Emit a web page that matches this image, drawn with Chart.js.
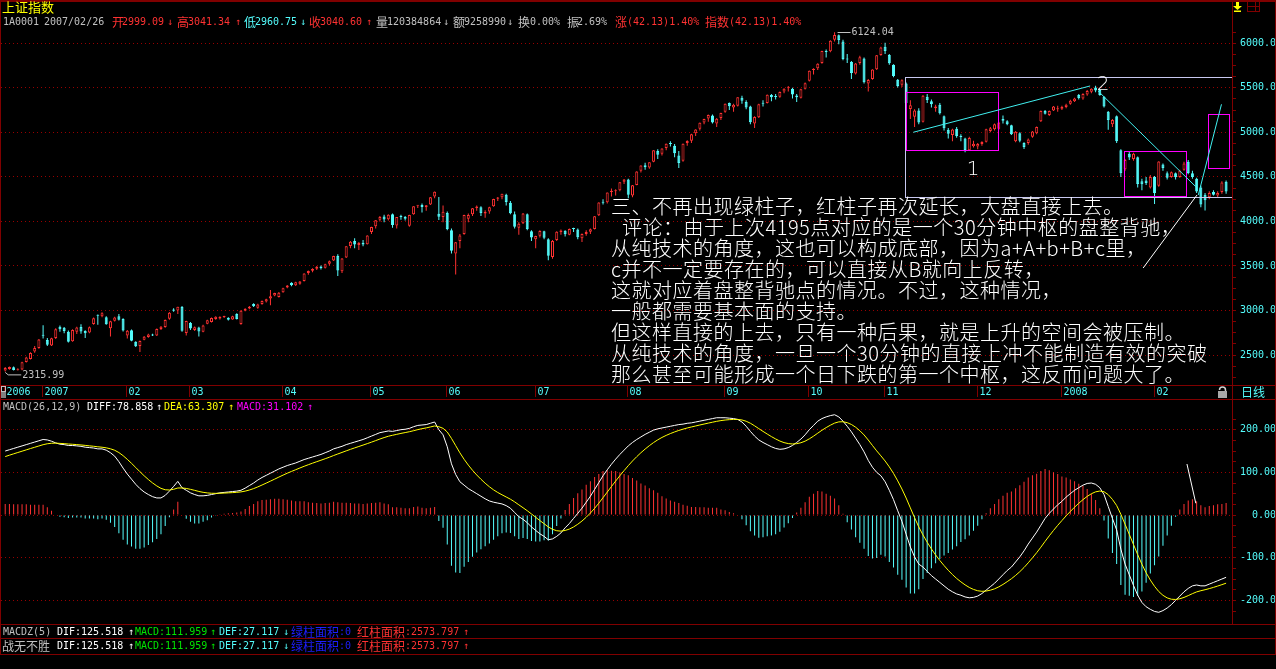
<!DOCTYPE html>
<html lang="zh-CN">
<head>
<meta charset="utf-8">
<title>上证指数 日线</title>
<script src="https://cdn.jsdelivr.net/npm/chart.js@4.4.1/dist/chart.umd.min.js"></script>
<style>
  html, body { margin:0; padding:0; background:#000; overflow:hidden; }
  #screen { position:relative; width:1276px; height:669px; background:#000; overflow:hidden; }
  #screen canvas { position:absolute; left:0; }
  #layer { position:absolute; left:0; top:0; width:1276px; height:669px; }
  .ln { position:absolute; background:#800000; }
  .tx { position:absolute; white-space:pre; font:10px/12px 'DejaVu Sans Mono', monospace; }
  .cj { position:absolute; white-space:pre; font:12px/12px 'Noto Sans CJK SC', sans-serif; }
  .note { position:absolute; white-space:pre; color:#fff; font:300 20px/21px 'Noto Sans CJK SC', sans-serif; letter-spacing:0.5px; }
</style>
</head>
<body>
<div id="screen">
  <canvas id="kline" width="1276" height="400" style="top:0"></canvas>
  <canvas id="macd" width="1276" height="226" style="top:399px"></canvas>
  <div id="layer"></div>
</div>
<script>
// ---- daily bars, 2006-12-19 .. 2008-03-04 ----
const opens = [
  2325,2342,2362,2328,2336,2422,2456,2540,2578,2728,
  2668,2606,2690,2818,2805,2762,2655,2760,2815,2770,
  2752,2848,2948,2935,2925,2800,2885,2935,2905,2718,
  2778,2648,2600,2672,2702,2728,2720,2792,2815,2906,
  3012,2999.09,3040,2747,2858,2780,2810,2762,2852,2870,
  2905,2910,2926,2918,2900,2960,2848,2998,3022,3072,
  3030,3072,3100,3135,3168,3150,3205,3258,3310,3282,
  3300,3330,3420,3445,3468,3495,3480,3525,3560,3612,
  3440,3595,3725,3780,3735,3760,3745,3880,3945,4020,
  4055,4025,4080,3955,4055,4050,3950,4080,4175,4185,
  4160,4190,4280,4087,4050,4095,3900,3640,3780,3860,
  4030,4080,4150,4160,4090,4110,4170,4255,4270,4300,
  4210,4080,3930,3980,4080,3890,3800,3840,3890,3800,
  3600,3790,3880,3895,3850,3920,3910,3810,3860,3885,
  3915,4070,4220,4215,4330,4340,4350,4445,4470,4290,
  4410,4570,4630,4605,4670,4790,4760,4825,4875,4850,
  4740,4680,4880,4905,4990,5040,5110,5155,5190,5100,
  5160,5230,5330,5280,5300,5390,5340,5290,5100,5170,
  5330,5330,5420,5400,5400,5460,5495,5490,5415,5390,
  5490,5580,5700,5720,5780,5910,5910,6040,6090,6020,
  5820,5790,5660,5780,5830,5550,5600,5710,5870,5960,
  5870,5760,5590,5535,5550,5262,5175,5245,5120,5400,
  5350,5270,5310,5180,5030,4970,5040,4950,4930,4800,
  4845,4840,4870,4895,5015,5035,5040,5150,5125,5080,
  4900,4990,4880,4880,4950,4990,5125,5240,5195,5245,
  5260,5265,5285,5320,5350,5420,5380,5425,5455,5505,
  5475,5400,5230,5090,5180,4800,4585,4760,4700,4720,
  4450,4460,4380,4500,4400,4640,4540,4500,4540,4500,
  4580,4670,4540,4480,4380,4300,4270,4330,4290,4330,
  4445
];
const highs = [
  2365,2372,2370,2350,2425,2480,2530,2600,2680,2835,
  2690,2695,2800,2830,2815,2775,2790,2818,2845,2778,
  2820,2920,2955,2980,2935,2885,2930,2960,2912,2780,
  2785,2655,2662,2712,2738,2740,2798,2825,2900,2982,
  3025,3041.34,3049,2885,2870,2820,2818,2840,2895,2922,
  2935,2935,2940,2925,2942,2968,3002,3025,3050,3080,
  3075,3112,3132,3230,3200,3208,3255,3285,3318,3322,
  3330,3418,3450,3475,3500,3505,3525,3560,3615,3630,
  3590,3722,3780,3810,3770,3790,3845,3940,4015,4060,
  4075,4080,4090,4050,4075,4060,4075,4170,4182,4200,
  4185,4275,4335,4275,4180,4110,3920,3770,3860,4075,
  4090,4150,4180,4170,4125,4165,4255,4275,4312,4310,
  4230,4110,3990,4095,4090,3900,3840,3900,3895,3810,
  3790,3890,3910,3900,3920,3930,3920,3865,3900,3920,
  4060,4215,4250,4325,4370,4360,4442,4475,4480,4410,
  4562,4630,4660,4665,4800,4810,4822,4875,4900,4870,
  4790,4875,4910,4985,5035,5110,5152,5200,5200,5160,
  5220,5325,5335,5320,5395,5410,5360,5300,5180,5320,
  5360,5425,5430,5430,5460,5495,5520,5500,5430,5490,
  5560,5695,5720,5775,5915,5930,6035,6124.04,6100,6040,
  5880,5800,5780,5860,5840,5600,5710,5870,5960,6005,
  5880,5765,5600,5595,5560,5360,5260,5270,5420,5430,
  5370,5310,5330,5190,5050,5040,5060,4980,4940,4950,
  4905,4880,4900,5040,5060,5100,5120,5190,5135,5085,
  5015,5000,4890,4930,5015,5065,5245,5250,5245,5295,
  5300,5300,5320,5365,5390,5430,5440,5475,5495,5522,
  5485,5405,5240,5150,5190,4810,4700,4790,4770,4730,
  4480,4500,4520,4510,4675,4650,4560,4560,4550,4580,
  4670,4690,4570,4490,4400,4320,4340,4350,4340,4450,
  4460
];
const lows = [
  2315.99,2335,2325,2326,2330,2415,2450,2525,2570,2684,
  2600,2600,2680,2762,2745,2640,2648,2735,2740,2690,
  2745,2840,2840,2925,2840,2707,2875,2888,2765,2685,
  2655,2590,2535,2665,2695,2712,2712,2780,2805,2895,
  2985,2960.75,2761,2720,2780,2770,2707,2755,2845,2865,
  2895,2900,2915,2888,2895,2900,2840,2990,3015,3040,
  3020,3065,3090,3060,3160,3145,3198,3250,3272,3275,
  3290,3325,3400,3430,3455,3460,3470,3505,3555,3388,
  3420,3590,3700,3700,3680,3720,3740,3860,3920,4000,
  3990,4010,3930,3920,4020,4010,3940,4075,4150,4100,
  4120,4185,4260,4015,3990,3900,3640,3404,3700,3850,
  3990,4060,4120,4060,4040,4085,4165,4230,4250,4180,
  4080,3920,3850,3970,3900,3780,3700,3820,3800,3563,
  3580,3780,3850,3830,3845,3880,3800,3770,3840,3860,
  3910,4060,4190,4200,4280,4290,4340,4420,4260,4270,
  4405,4550,4580,4590,4665,4700,4740,4800,4840,4720,
  4600,4670,4850,4880,4960,5020,5090,5120,5100,5060,
  5140,5220,5250,5230,5290,5320,5260,5090,5050,5160,
  5290,5325,5350,5370,5390,5440,5460,5380,5340,5380,
  5480,5570,5650,5700,5770,5840,5900,6020,5990,5810,
  5780,5600,5650,5760,5550,5460,5590,5700,5860,5880,
  5760,5620,5505,5510,5310,5150,5060,5090,5110,5330,
  5280,5230,5200,5020,4930,4900,4940,4900,4778,4790,
  4830,4810,4850,4885,5000,5020,5030,5100,5080,4970,
  4890,4890,4812,4860,4940,4980,5115,5200,5185,5240,
  5230,5250,5270,5310,5340,5370,5365,5410,5440,5450,
  5410,5280,5030,5060,4880,4500,4570,4690,4680,4380,
  4350,4410,4370,4195.75,4390,4570,4470,4490,4470,4490,
  4570,4530,4480,4320,4160,4123,4250,4290,4270,4310,
  4310
];
const closes = [
  2355,2366,2331,2332,2420,2473,2522,2580,2675,2715,
  2614,2688,2788,2790,2770,2648,2780,2810,2765,2745,
  2812,2912,2940,2970,2845,2878,2922,2895,2775,2772,
  2660,2598,2657,2705,2730,2720,2792,2818,2893,2975,
  2998,3040.60,2771.79,2881,2797,2812,2765,2832,2889,2916,
  2930,2928,2932,2895,2935,2905,2998,3020,3043,3048,
  3068,3106,3125,3160,3195,3200,3250,3280,3282,3318,
  3325,3416,3444,3466,3492,3478,3518,3554,3612,3449,
  3584,3720,3773,3741,3759,3741,3841,3937,4013,4049,
  4021,4074,3959,4049,4050,4030,4072,4169,4181,4162,
  4181,4272,4334,4053,4109,3914,3670,3767,3842,4072,
  4073,4149,4167,4095,4105,4159,4252,4269,4311,4218,
  4091,3941,3973,4089,3914,3820,3836,3893,3816,3615,
  3781,3883,3898,3856,3915,3914,3821,3858,3882,3912,
  4058,4213,4210,4324,4345,4345,4440,4471,4300,4407,
  4560,4628,4607,4663,4799,4749,4820,4872,4869,4765,
  4656,4873,4903,4980,5032,5107,5150,5194,5111,5153,
  5218,5321,5294,5310,5393,5355,5278,5113,5172,5317,
  5322,5421,5393,5397,5454,5490,5497,5425,5395,5485,
  5552,5692,5715,5771,5913,5903,6030,6092,6036,5825,
  5818,5667,5773,5843,5562,5589,5707,5867,5954,5914,
  5777,5634,5520,5585,5330,5305,5245,5110,5412,5362,
  5316,5290,5214,5045,4984,5032,4958,4947,4803,4936,
  4871,4868,4893,5035,5045,5090,5110,5130,5090,4980,
  5008,4905,4835,4920,5010,5060,5240,5210,5240,5290,
  5270,5285,5310,5355,5380,5386,5430,5465,5490,5470,
  5420,5290,5140,5140,4900,4540,4690,4717,4761,4419,
  4418,4430,4500,4320,4672,4599,4490,4552,4497,4570,
  4650,4545,4500,4335,4190,4238,4320,4300,4320,4436,
  4335
];

// ---- MACD(26,12,9) ----
const dif = [
  150,153,156,159,162,165,168,171,174,177,
  176,173,169,166,165,163,163,162,161,159,158,157,155,
  155,152,146,138,125,110,96,84,72,62,54,48,43,40,40,46,56,67,78.858,
  64,58,52,48,45,45,46,48,50,52,53,54,55,56,58,63,69,75,82,
  88,93,98,103,108,112,116,119,122,126,130,133,136,139,142,146,150,155,158,161,165,168,171,174,177,181,185,189,193,
  195,197,196,198,200,201,203,207,210,211,212,215,218,200,188,
  160,120,95,78,70,62,56,50,44,38,33,30,28,26,22,16,6,-4,-10,-18,-28,-36,-44,-50,-58,-56,-50,-42,-30,-20,
  -8,4,16,30,44,60,76,92,106,119,131,142,152,162,170,177,183,189,194,199,202,204,206,208,210,212,213,215,216,218,220,222,224,226,228,228,
  228,227,226,224,218,208,196,185,176,170,165,160,156,154,155,158,163,170,178,188,200,210,220,226,230,233,235,
  230,220,208,195,180,165,148,128,112,100,92,78,58,36,10,-15,-45,-75,-98,-115,-122,-132,-142,-150,-158,-166,-174,-180,-185,-188,-192,-194,-193,-190,-184,
  -176,-168,-160,-150,-140,-130,-122,-110,-98,-84,-68,-54,-40,-24,-8,4,14,24,32,42,50,58,64,70,74,75,72,64,
  48,20,-8,-35,-80,-115,-140,-165,-188,-205,-215,-221,-226,-228,
  -224,-218,-210,-200,-190,-180,-172,-166,-164,-166,-166,-162,-158,-154,-150,-146
];
const dea = [
  137,140.2,143.4,146.5,149.6,152.7,155.8,158.8,161.8,164.8,
  167,168.2,168.4,167.9,167.3,166.4,165.8,165,164.2,163.2,162.1,161.1,159.9,
  158.9,157.5,155.2,151.8,146.4,139.1,130.5,121.2,111.4,101.5,92,83.2,75.2,68.2,62.5,59.2,58.6,60.3,63.307,
  63.4,62.3,60.2,57.8,55.2,53.2,51.8,51,50.8,51,51.4,51.9,52.5,53.2,54.2,56,58.6,61.9,65.9,
  70.3,74.8,79.4,84.1,88.9,93.5,98,102.2,106.2,110.2,114.2,117.9,121.5,125,128.4,131.9,135.5,139.4,143.1,146.7,150.4,153.9,157.3,160.6,163.9,167.3,170.8,174.4,178.1,
  181.5,184.6,186.9,189.1,191.3,193.2,195.2,197.6,200.1,202.3,204.2,206.4,208.7,207,203.2,
  194.6,179.7,162.7,145.8,130.6,117,104.8,93.8,83.8,74.6,66.3,59,52.8,47.4,42.3,37.1,30.9,23.9,17.1,10.1,2.5,-5.2,-13,-20.4,-27.9,-33.5,-36.8,-37.8,-36.2,-33,
  -28,-21.6,-14.1,-5.3,4.6,15.7,27.8,40.6,53.7,66.8,79.6,92.1,104.1,115.7,126.6,136.7,146,154.6,162.5,169.8,176.2,181.8,186.6,190.9,194.7,198.2,201.2,204,206.4,208.7,211,213.2,215.4,217.5,219.6,221.3,
  222.6,223.5,224,224,222.8,219.8,215.1,209.1,202.5,196,189.8,183.8,178.3,173.4,169.7,167.4,166.5,167.2,169.4,173.1,178.5,184.8,191.8,198.6,204.9,210.5,215.4,
  218.3,218.6,216.5,212.2,205.8,197.6,187.7,175.8,163,150.4,138.7,126.6,112.9,97.5,80,61,39.8,16.8,-6.2,-28,-46.8,-63.8,-79.5,-93.6,-106.5,-118.4,-129.5,-139.6,-148.7,-156.6,-163.7,-169.8,-174.4,-177.5,-178.8,
  -178.2,-176.2,-173,-168.4,-162.7,-156.2,-149.4,-141.5,-132.8,-123,-112,-100.4,-88.3,-75.4,-61.9,-48.7,-36.2,-24.2,-13,-2,8.4,18.3,27.5,36,43.6,49.9,54.3,56.2,
  54.6,47.7,36.6,22.3,1.8,-21.6,-45.3,-69.2,-93,-115.4,-135.3,-152.4,-167.1,-179.3,
  -188.2,-194.2,-197.4,-197.9,-196.3,-193.1,-188.9,-184.3,-180.2,-177.4,-175.1,-172.5,-169.6,-166.5,-163.2,-159.8
];
const macdBars = [
  26,26,25,25,25,25,24,24,24,24,
  18,10,1,-4,-5,-7,-6,-6,-6,-8,-8,-8,-10,
  -8,-11,-18,-28,-43,-58,-69,-74,-79,-79,-76,-70,-64,-56,-45,-26,-5,13,31.102,
  1,-9,-16,-20,-20,-16,-12,-6,-2,2,3,4,5,6,8,14,21,26,32,
  35,36,37,38,38,37,36,34,32,32,32,30,29,28,27,28,29,31,30,29,29,28,27,27,26,27,28,29,30,
  27,25,18,18,17,16,16,19,20,17,16,17,19,-14,-30,
  -69,-119,-135,-136,-121,-110,-98,-88,-80,-73,-67,-58,-50,-43,-41,-42,-50,-56,-54,-56,-61,-62,-62,-59,-60,-45,-26,-8,12,26,
  40,51,60,71,79,89,96,103,105,104,103,100,96,93,87,81,74,69,63,58,52,44,39,34,31,28,24,22,19,19,18,18,17,17,17,13,
  11,7,4,0,-10,-24,-38,-48,-53,-52,-50,-48,-45,-39,-29,-19,-7,6,17,30,43,50,56,55,50,45,39,
  23,3,-17,-34,-52,-65,-79,-96,-102,-101,-93,-97,-110,-123,-140,-152,-170,-184,-184,-174,-150,-136,-125,-113,-103,-95,-89,-81,-73,-63,-57,-48,-37,-25,-10,
  4,16,26,37,45,52,55,63,70,78,88,93,97,103,108,105,100,96,90,88,83,79,73,68,61,50,35,16,
  -13,-55,-89,-115,-164,-187,-189,-192,-190,-179,-159,-137,-118,-97,
  -72,-48,-25,-4,13,26,34,37,32,23,18,21,23,25,26,28
];

// ---- axis labels ----
const monthLabels = ['2006','2007','02','03','04','05','06','07','08','09','10','11','12','2008','02'];
const monthStarts = [0, 9, 29, 44, 66, 87, 105, 126, 148, 171, 191, 209, 231, 251, 273];
const priceTicks = [2500, 3000, 3500, 4000, 4500, 5000, 5500, 6000];
const macdTicks = [-200, -100, 0, 100, 200];
const macdTickLabels = ['-200.0', '-100.0', '0.00', '100.00', '200.00'];

// ---- hand-drawn study marks (bar index / price) ----
const rangeFrame = [213.8, 291.4, 5622, 4278];
const pivotBoxes = [[213.9, 235.7, 5450, 4799], [265.7, 280.5, 4787, 4282], [285.7, 290.6, 5203, 4597]];
const trendLines = [[215.7, 5001, 257.7, 5521], [259.6, 5464, 282.8, 4390], [283.4, 4297, 288.9, 5315]];
const breakLine = [270.3, 3477, 283.1, 4297];
const pointLabels = [['1', 229.9, 4577], ['2', 260.8, 5532]];
const macdStroke = [280.7, 119.5, 282.8, 27.6];

const UP = '#ff3232', DOWN = '#54fcfc', FRAME = '#800000', GRID = '#980000', AXIS = '#54fcfc';
const MONO = "'DejaVu Sans Mono', monospace";
const idx = closes.map((_, i) => i);
const isUp = i => closes[i] >= opens[i];
const X_MIN = -1, X_MAX = 291.4;

function minorTicks(lo, hi, step) {
  const out = [];
  for (let v = lo; v <= hi + 1e-9; v += step) out.push(v);
  return out;
}

function rightAxis(min, max, marks, majors, label) {
  return {
    position: 'right', min, max,
    afterFit: s => { s.width = 44; },
    afterBuildTicks: s => { s.ticks = marks.map(v => ({ value: v })); },
    ticks: {
      autoSkip: false, color: AXIS, padding: 0, crossAlign: 'far',
      font: { family: MONO, size: 10 },
      callback: v => majors.includes(v) ? label(v) : ''
    },
    grid: {
      color: c => majors.includes(c.tick && c.tick.value) ? GRID : 'rgba(0,0,0,0)',
      tickColor: FRAME, tickLength: 4, lineWidth: 1
    },
    border: { display: true, color: FRAME, width: 1, dash: [1, 3] }
  };
}

const klineDecor = {
  id: 'klineDecor',
  afterDatasetsDraw(chart) {
    const { ctx, scales: { x, y } } = chart;
    const px = v => x.getPixelForValue(v), py = v => y.getPixelForValue(v);
    const sx = v => Math.round(px(v)) + 0.5, sy = v => Math.round(py(v)) + 0.5;
    ctx.save();
    ctx.lineWidth = 1;
    ctx.strokeStyle = '#c8c8f0';
    ctx.strokeRect(sx(rangeFrame[0]), sy(rangeFrame[2]), sx(rangeFrame[1]) - sx(rangeFrame[0]), sy(rangeFrame[3]) - sy(rangeFrame[2]));
    ctx.strokeStyle = '#ff00ff';
    pivotBoxes.forEach(b => ctx.strokeRect(sx(b[0]), sy(b[2]), sx(b[1]) - sx(b[0]), sy(b[3]) - sy(b[2])));
    ctx.strokeStyle = '#40f0f0';
    trendLines.forEach(l => {
      ctx.beginPath(); ctx.moveTo(px(l[0]), py(l[1])); ctx.lineTo(px(l[2]), py(l[3])); ctx.stroke();
    });
    ctx.strokeStyle = '#ffffff';
    ctx.beginPath(); ctx.moveTo(px(breakLine[0]), py(breakLine[1])); ctx.lineTo(px(breakLine[2]), py(breakLine[3])); ctx.stroke();

    ctx.fillStyle = '#ffffff';
    ctx.font = "200 20px 'DejaVu Sans'";
    ctx.textAlign = 'center'; ctx.textBaseline = 'middle';
    pointLabels.forEach(p => ctx.fillText(p[0], px(p[1]), py(p[2])));

    // extremes of the visible range
    const hiVal = Math.max(...highs), hiIdx = highs.indexOf(hiVal);
    const loVal = Math.min(...lows), loIdx = lows.indexOf(loVal);
    ctx.strokeStyle = '#c0c0c0'; ctx.fillStyle = '#c0c0c0';
    ctx.font = '10px ' + MONO; ctx.textAlign = 'left';
    const hx = px(hiIdx), hy = Math.round(py(hiVal)) + 0.5;
    ctx.beginPath(); ctx.moveTo(hx + 3, hy); ctx.lineTo(hx + 16, hy); ctx.stroke();
    ctx.fillText(hiVal.toFixed(2), hx + 17, hy);
    const lx = px(loIdx), ly = py(loVal);
    ctx.beginPath(); ctx.moveTo(lx, ly + 1); ctx.lineTo(lx + 3, ly + 3.5); ctx.lineTo(lx + 16, ly + 3.5); ctx.stroke();
    ctx.fillText(loVal.toFixed(2), lx + 17, ly + 4);
    ctx.restore();
  },
  afterDraw(chart) {
    const { ctx, scales: { x } } = chart;
    ctx.save();
    // month row
    ctx.font = '10px ' + MONO; ctx.textBaseline = 'middle'; ctx.textAlign = 'left';
    ctx.lineWidth = 1;
    monthStarts.forEach((m, k) => {
      const tx = Math.round(x.getPixelForValue(m)) - 0.5;
      ctx.strokeStyle = FRAME;
      ctx.beginPath(); ctx.moveTo(tx, 386); ctx.lineTo(tx, 397); ctx.stroke();
      ctx.fillStyle = AXIS;
      ctx.fillText(monthLabels[k], tx + 2, 392.5);
    });
    // scroll handle at the left end of the month row
    ctx.fillStyle = '#808080'; ctx.fillRect(1, 392, 5, 6);
    ctx.strokeStyle = '#c0c0c0'; ctx.strokeRect(1.5, 386.5, 4, 5);
    // padlock
    ctx.fillStyle = '#a8a8a8'; ctx.fillRect(1218, 391, 9, 7);
    ctx.strokeStyle = '#d0d0d0'; ctx.lineWidth = 1.5;
    ctx.beginPath(); ctx.arc(1222.5, 390, 3, Math.PI, 0); ctx.lineTo(1225.5, 391); ctx.stroke();
    ctx.lineWidth = 1;
    // top-right controls
    ctx.fillStyle = '#ffff00';
    ctx.fillRect(1236, 2, 3, 5);
    ctx.beginPath(); ctx.moveTo(1233, 6); ctx.lineTo(1242, 6); ctx.lineTo(1237.5, 10); ctx.closePath(); ctx.fill();
    ctx.fillRect(1234, 10.5, 7, 1.5);
    ctx.strokeStyle = FRAME;
    ctx.strokeRect(1247.5, 0.5, 12, 11);
    ctx.beginPath(); ctx.moveTo(1255.5, 0.5); ctx.lineTo(1255.5, 11.5); ctx.moveTo(1247.5, 6.5); ctx.lineTo(1259.5, 6.5); ctx.stroke();
    ctx.restore();
  }
};

new Chart(document.getElementById('kline'), {
  type: 'bar',
  data: {
    datasets: [
      {
        label: 'body',
        data: idx.map(i => ({ x: i, y: [opens[i], closes[i]] })),
        backgroundColor: idx.map(i => isUp(i) ? '#000000' : DOWN),
        borderColor: idx.map(i => isUp(i) ? UP : DOWN),
        borderWidth: 1, borderSkipped: false, barThickness: 3, minBarLength: 1,
        inflateAmount: 0, grouped: false, order: 0
      },
      {
        label: 'shadow',
        data: idx.map(i => ({ x: i, y: [lows[i], highs[i]] })),
        backgroundColor: idx.map(i => isUp(i) ? UP : DOWN),
        borderWidth: 0, barThickness: 1, inflateAmount: 0, grouped: false, order: 1
      }
    ]
  },
  options: {
    responsive: false, animation: false, devicePixelRatio: 1, events: [],
    layout: { padding: { left: 1, right: 0, top: 28, bottom: 16 } },
    plugins: { legend: { display: false }, tooltip: { enabled: false } },
    scales: {
      x: { type: 'linear', min: X_MIN, max: X_MAX, offset: false, display: false },
      y: rightAxis(2174.4, 6171.8, minorTicks(2250, 6125, 125), priceTicks, v => v.toFixed(1))
    }
  },
  plugins: [klineDecor]
});

const macdDecor = {
  id: 'macdDecor',
  afterDatasetsDraw(chart) {
    const { ctx, scales: { x, y } } = chart;
    ctx.save();
    ctx.strokeStyle = '#ffffff'; ctx.lineWidth = 1;
    ctx.beginPath();
    ctx.moveTo(x.getPixelForValue(macdStroke[0]), y.getPixelForValue(macdStroke[1]));
    ctx.lineTo(x.getPixelForValue(macdStroke[2]), y.getPixelForValue(macdStroke[3]));
    ctx.stroke();
    ctx.restore();
  }
};

new Chart(document.getElementById('macd'), {
  type: 'bar',
  data: {
    datasets: [
      {
        type: 'bar', label: 'MACD',
        data: idx.map(i => ({ x: i, y: macdBars[i] })),
        backgroundColor: idx.map(i => macdBars[i] >= 0 ? UP : DOWN),
        borderWidth: 0, barThickness: 1, inflateAmount: 0, grouped: false, order: 2
      },
      {
        type: 'line', label: 'DIFF',
        data: idx.map(i => ({ x: i, y: dif[i] })),
        borderColor: '#ffffff', borderWidth: 1, pointRadius: 0, tension: 0, order: 1
      },
      {
        type: 'line', label: 'DEA',
        data: idx.map(i => ({ x: i, y: dea[i] })),
        borderColor: '#ffff00', borderWidth: 1, pointRadius: 0, tension: 0, order: 0
      }
    ]
  },
  options: {
    responsive: false, animation: false, devicePixelRatio: 1, events: [],
    layout: { padding: { left: 1, right: 0, top: 14, bottom: 2 } },
    plugins: { legend: { display: false }, tooltip: { enabled: false } },
    scales: {
      x: { type: 'linear', min: X_MIN, max: X_MAX, offset: false, display: false },
      y: rightAxis(-243.7, 239.1, minorTicks(-225, 225, 25), macdTicks, v => macdTickLabels[macdTicks.indexOf(v)])
    }
  },
  plugins: [macdDecor]
});

// ---- panel frame and text rows ----
const layer = document.getElementById('layer');
function line(x, y, w, h) {
  const d = document.createElement('div');
  d.className = 'ln';
  Object.assign(d.style, { left: x + 'px', top: y + 'px', width: w + 'px', height: h + 'px' });
  layer.appendChild(d);
}
function put(x, y, text, color, cls, size) {
  const s = document.createElement('span');
  s.className = cls || 'tx';
  s.style.left = x + 'px'; s.style.top = y + 'px'; s.style.color = color;
  if (size) s.style.fontSize = size + 'px';
  s.textContent = text;
  layer.appendChild(s);
}
line(0, 0, 1276, 2); line(0, 0, 1, 655); line(1275, 0, 1, 655); line(1232, 0, 1, 625);
line(0, 385, 1276, 1); line(0, 399, 1276, 1); line(0, 624, 1276, 1); line(0, 638, 1276, 1); line(0, 654, 1276, 1);

const GRAY = '#c0c0c0', RED = '#ff3232', CYAN = '#54fcfc', YEL = '#ffff00', MAG = '#ff00ff', GRN = '#00e600', BLUE = '#1e1eff';
put(2, 1, '上证指数', YEL, 'cj', 13);

[[3, '1A0001', GRAY], [44, '2007/02/26', GRAY],
 [112, '开', RED, 1], [122, '2999.09', RED], [167, '↓', RED],
 [177, '高', RED, 1], [188, '3041.34', RED], [235, '↑', RED],
 [244, '低', CYAN, 1], [255, '2960.75', CYAN], [300, '↓', CYAN],
 [309, '收', RED, 1], [320, '3040.60', RED], [366, '↑', RED],
 [376, '量', GRAY, 1], [387, '120384864', GRAY], [443, '↓', GRAY],
 [453, '额', GRAY, 1], [464, '9258990', GRAY], [507, '↓', GRAY],
 [518, '换', GRAY, 1], [530, '0.00%', GRAY],
 [567, '振', GRAY, 1], [577, '2.69%', GRAY],
 [615, '涨', RED, 1], [627, '(42.13)1.40%', RED],
 [705, '指数', RED, 1], [729, '(42.13)1.40%', RED]
].forEach(s => put(s[0], 16, s[1], s[2], s[3] ? 'cj' : 'tx'));

[[3, 'MACD(26,12,9)', GRAY], [87, 'DIFF:78.858', '#ffffff'], [156, '↑', '#ffffff'],
 [164, 'DEA:63.307', YEL], [228, '↑', YEL], [237, 'MACD:31.102', MAG], [307, '↑', MAG]
].forEach(s => put(s[0], 401, s[1], s[2]));

[626, 640].forEach((ty, r) => {
  if (r === 0) put(3, ty, 'MACDZ(5)', GRAY); else put(2, ty, '战无不胜', GRAY, 'cj');
  [[57, 'DIF:125.518', '#ffffff'], [128, '↑', '#ffffff'], [135, 'MACD:111.959', GRN], [210, '↑', GRN],
   [219, 'DEF:27.117', CYAN], [283, '↓', CYAN], [291, '绿柱面积', BLUE, 1], [339, ':0', BLUE],
   [357, '红柱面积', RED, 1], [405, ':2573.797', RED], [463, '↑', RED]
  ].forEach(s => put(s[0], ty, s[1], s[2], s[3] ? 'cj' : 'tx'));
});

put(1241, 386, '日线', CYAN, 'cj');

const noteLines = [
  '三、不再出现绿柱子，红柱子再次延长，大盘直接上去。',
  '评论：由于上次4195点对应的是一个30分钟中枢的盘整背驰，',
  '从纯技术的角度，这也可以构成底部，因为a+A+b+B+c里，',
  'c并不一定要存在的，可以直接从B就向上反转，',
  '这就对应着盘整背驰点的情况。不过，这种情况，',
  '一般都需要基本面的支持。',
  '但这样直接的上去，只有一种后果，就是上升的空间会被压制。',
  '从纯技术的角度，一旦一个30分钟的直接上冲不能制造有效的突破',
  '那么甚至可能形成一个日下跌的第一个中枢，这反而问题大了。'
];
noteLines.forEach((t, k) => put(k === 1 ? 622 : 611, 195.4 + 21 * k, t, '#ffffff', 'note'));
</script>
</body>
</html>
